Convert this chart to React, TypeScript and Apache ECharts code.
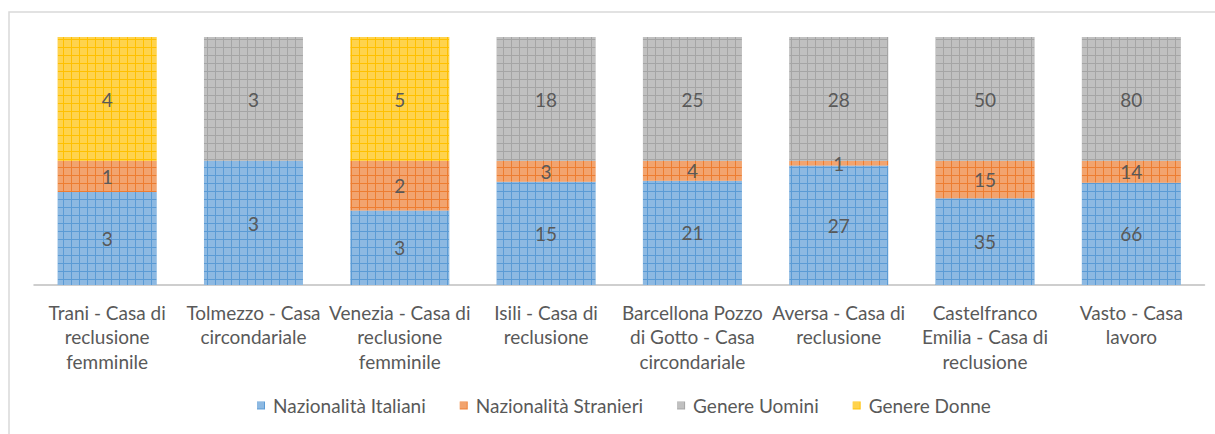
import React, { useEffect, useRef } from "react";
import * as echarts from "echarts";

const categories = [
  "Trani - Casa di\nreclusione\nfemminile",
  "Tolmezzo - Casa\ncircondariale",
  "Venezia - Casa di\nreclusione\nfemminile",
  "Isili - Casa di\nreclusione",
  "Barcellona Pozzo\ndi Gotto - Casa\ncircondariale",
  "Aversa - Casa di\nreclusione",
  "Castelfranco\nEmilia - Casa di\nreclusione",
  "Vasto - Casa\nlavoro",
];

const italiani = [3, 3, 3, 15, 21, 27, 35, 66];
const stranieri = [1, 0, 2, 3, 4, 1, 15, 14];
const uomini = [0, 3, 0, 18, 25, 28, 50, 80];
const donne = [4, 0, 5, 0, 0, 0, 0, 0];

const seriesNames = [
  "Nazionalità Italiani",
  "Nazionalità Stranieri",
  "Genere Uomini",
  "Genere Donne",
];
const seriesColors = ["#5B9BD5", "#ED7D31", "#A5A5A5", "#FFC000"];

const FONT = "Lato";
const TEXT = "#595959";

export default function App() {
  const ref = useRef<HTMLDivElement>(null);
  useEffect(() => {
    if (!ref.current) return;
    const chart = echarts.init(ref.current, null, { renderer: "svg" });
    const raw = [italiani, stranieri, uomini, donne];
    const totals = categories.map(
      (_, i) => raw.reduce((s, arr) => s + arr[i], 0)
    );
    const series = raw.map((arr, si) => ({
      name: seriesNames[si],
      type: "bar",
      stack: "total",
      barWidth: 99,
      itemStyle: {
        color: seriesColors[si],
        decal: {
          symbol: "rect",
          symbolSize: 1,
          color: "rgba(255,255,255,0.3)",
          dashArrayX: [7, 1],
          dashArrayY: [7, 1],
          rotation: 0,
        },
      },
      label: {
        show: true,
        position: "inside",
        color: TEXT,
        fontFamily: FONT,
        fontSize: 19,
        formatter: (p: any) => {
          const v = arr[p.dataIndex];
          return v === 0 ? "" : String(v);
        },
      },
      emphasis: { disabled: true },
      data: arr.map((v, i) => (v / totals[i]) * 100),
    }));
    chart.setOption({
      animation: false,
      aria: { enabled: false },
      graphic: [
        {
          type: "rect",
          shape: { x: 9, y: 12, width: 1230, height: 440 },
          style: { fill: "none", stroke: "#D9D9D9", lineWidth: 1.5 },
          silent: true,
        },
      ],
      grid: { left: 34, right: 10.5, top: 37, bottom: 149 },
      legend: {
        bottom: 14,
        left: 252,
        itemWidth: 8,
        itemHeight: 8,
        itemGap: 34,
        icon: "rect",
        data: seriesNames,
        textStyle: {
          color: TEXT,
          fontFamily: FONT,
          fontSize: 19,
          padding: [0, 0, 0, 3],
        },
      },
      xAxis: {
        type: "category",
        data: categories,
        axisLine: { lineStyle: { color: "#BFBFBF", width: 1.5 } },
        axisTick: { show: false },
        axisLabel: {
          color: TEXT,
          fontFamily: FONT,
          fontSize: 19,
          lineHeight: 24.5,
          margin: 15,
          interval: 0,
          align: "center",
        },
      },
      yAxis: {
        type: "value",
        min: 0,
        max: 100,
        show: false,
        splitLine: { show: false },
      },
      series,
    });
    return () => chart.dispose();
  }, []);
  return (
    <div
      ref={ref}
      style={{ position: "absolute", left: 0, top: 0, width: 1215, height: 434 }}
    />
  );
}
